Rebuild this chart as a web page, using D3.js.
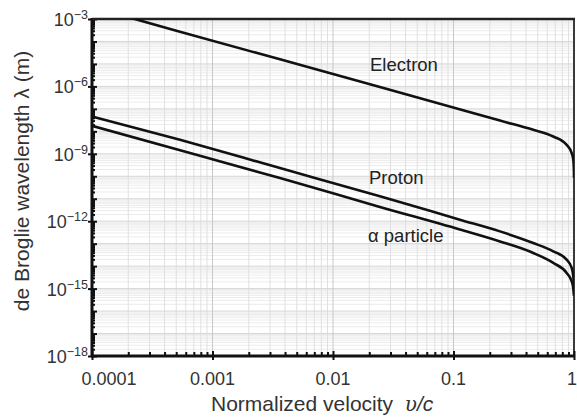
<!DOCTYPE html>
<html>
<head>
<meta charset="utf-8">
<script src="https://cdn.jsdelivr.net/npm/d3@7"></script>
<style>
  html, body { margin: 0; padding: 0; background: #fff; }
  svg { display: block; font-family: "Liberation Sans", Arial, Helvetica, sans-serif; }
</style>
</head>
<body>
<svg id="chart" width="577" height="417"></svg>
<script>
// ---- data ----
const electronV = [2.07e-4, 5.37e-4, 3.63e-3, 0.0245, 0.103, 0.243, 0.459, 0.673, 0.869, 0.957, 0.987, 0.999, 0.9999];
const electronL = [1.14e-3, 2.73e-4, 1.6e-5, 9.5e-7, 1.1e-7, 3.0e-8, 1.17e-8, 5.9e-9, 2.5e-9, 1.07e-9, 5.4e-10, 1.6e-10, 8.5e-11];

const protonV = [1e-4, 5.37e-4, 3.63e-3, 0.0245, 0.113, 0.243, 0.459, 0.673, 0.869, 0.957, 0.987, 0.999];
const protonL = [4.55e-8, 4.19e-9, 2.31e-10, 1.3e-11, 1.17e-12, 3.52e-13, 1.07e-13, 4.55e-14, 1.95e-14, 8.3e-15, 3.5e-15, 1.5e-15];

const alphaV = [1e-4, 7.87e-4, 3.63e-3, 0.0245, 0.113, 0.243, 0.459, 0.673, 0.869, 0.957, 0.987, 0.999];
const alphaL = [1.75e-8, 8.15e-10, 8.3e-11, 4.32e-12, 4.27e-13, 1.26e-13, 3.86e-14, 1.39e-14, 5.0e-15, 2.1e-15, 1.0e-15, 4.9e-16];

const xTickValues = [1e-4, 1e-3, 1e-2, 1e-1, 1];
const xTickLabels = ["0.0001", "0.001", "0.01", "0.1", "1"];
const yTickExponents = [-3, -6, -9, -12, -15, -18];

const seriesNames = ["Electron", "Proton", "\u03b1 particle"];

// ---- layout ----
const L = 92, R = 574, T = 19, B = 356;
const svg = d3.select("#chart");

const x = d3.scaleLog().domain([1e-4, 1]).range([L, R]);
const y = d3.scaleLog().domain([1e-18, 1e-3]).range([B, T]);

// minor/major grid values
const xMinor = [], xMajor = [];
for (let e = -4; e < 0; e++) {
  for (let k = 1; k <= 9; k++) {
    const v = k * Math.pow(10, e);
    if (k === 1) xMajor.push(v); else xMinor.push(v);
  }
}
xMajor.push(1);
const yMinor = [], yMajor = [];
for (let e = -18; e < -3; e++) {
  for (let k = 1; k <= 9; k++) {
    const v = k * Math.pow(10, e);
    if (k === 1) yMajor.push(v); else yMinor.push(v);
  }
}
yMajor.push(1e-3);

// grid
const grid = svg.append("g");
grid.selectAll(".gym").data(yMinor).join("line")
  .attr("x1", L).attr("x2", R).attr("y1", d => y(d)).attr("y2", d => y(d))
  .attr("stroke", "#ececec").attr("stroke-width", 1);
grid.selectAll(".gxm").data(xMinor).join("line")
  .attr("x1", d => x(d)).attr("x2", d => x(d)).attr("y1", T).attr("y2", B)
  .attr("stroke", "#e0e0e0").attr("stroke-width", 1);
grid.selectAll(".gyM").data(yMajor).join("line")
  .attr("x1", L).attr("x2", R).attr("y1", d => y(d)).attr("y2", d => y(d))
  .attr("stroke", "#d6d6d6").attr("stroke-width", 1);
grid.selectAll(".gxM").data(xMajor).join("line")
  .attr("x1", d => x(d)).attr("x2", d => x(d)).attr("y1", T).attr("y2", B)
  .attr("stroke", "#c8c8c8").attr("stroke-width", 1);

// frame
svg.append("rect").attr("x", L).attr("y", T).attr("width", R - L).attr("height", B - T)
  .attr("fill", "none").attr("stroke", "#3a3a3a").attr("stroke-width", 2);

// ticks: x axis (minor inward, major crossing)
const xAxisMinor = d3.axisBottom(x).tickValues(xMinor).tickSize(-4).tickFormat("");
const xAxisMajor = d3.axisBottom(x).tickValues(xTickValues).tickSize(4).tickFormat("");
const xAxisMajorIn = d3.axisBottom(x).tickValues(xTickValues).tickSize(-5).tickFormat("");
[xAxisMinor, xAxisMajor, xAxisMajorIn].forEach(ax => {
  const g = svg.append("g").attr("transform", `translate(0,${B})`).call(ax);
  g.select(".domain").remove();
  g.selectAll("line").attr("stroke", "#111").attr("stroke-width", 2);
});

// ticks: y axis
const yAxisMinor = d3.axisLeft(y).tickValues(yMinor).tickSize(-3).tickFormat("");
const yAxisDec = d3.axisLeft(y).tickValues(yMajor).tickSize(-5).tickFormat("");
const yLabVals = yTickExponents.map(e => Math.pow(10, e));
const yAxisLab = d3.axisLeft(y).tickValues(yLabVals).tickSize(4).tickFormat("");
[yAxisMinor, yAxisDec, yAxisLab].forEach(ax => {
  const g = svg.append("g").attr("transform", `translate(${L},0)`).call(ax);
  g.select(".domain").remove();
  g.selectAll("line").attr("stroke", "#111").attr("stroke-width", 2);
});

// axis lines (thick left & bottom)
svg.append("line").attr("x1", L).attr("x2", L).attr("y1", T - 1).attr("y2", B + 1)
  .attr("stroke", "#111").attr("stroke-width", 3);
svg.append("line").attr("x1", L - 1).attr("x2", R + 1).attr("y1", B).attr("y2", B)
  .attr("stroke", "#111").attr("stroke-width", 3);
svg.append("line").attr("x1", L).attr("x2", R + 1).attr("y1", T).attr("y2", T)
  .attr("stroke", "#222").attr("stroke-width", 2.5);

// x tick labels
svg.append("g").selectAll("text").data(xTickValues).join("text")
  .attr("x", (d, i) => x(d) + (i === 0 ? 17 : (i === xTickValues.length - 1 ? -2 : 0)))
  .attr("y", 385)
  .attr("text-anchor", "middle")
  .attr("font-size", 18)
  .attr("fill", "#333")
  .text((d, i) => xTickLabels[i]);

// y tick labels 10^n
const yl = svg.append("g").selectAll("text").data(yTickExponents).join("text")
  .attr("x", 88)
  .attr("y", d => y(Math.pow(10, d)) + 7)
  .attr("text-anchor", "end")
  .attr("fill", "#333");
yl.append("tspan").attr("font-size", 18).text("10");
yl.append("tspan").attr("font-size", 12.5).attr("dy", -7).text(d => "\u2212" + Math.abs(d));

// axis titles
const xt = svg.append("text").attr("x", 211).attr("y", 411).attr("font-size", 21).attr("fill", "#333");
xt.append("tspan").text("Normalized velocity\u00a0\u00a0");
xt.append("tspan").attr("font-style", "italic").attr("font-family", "'DejaVu Serif', serif").attr("font-size", 20).text("\u03c5");
xt.append("tspan").attr("font-style", "italic").text("/c");

svg.append("text")
  .attr("transform", "translate(29,181) rotate(-90)")
  .attr("text-anchor", "middle")
  .attr("font-size", 21)
  .attr("fill", "#333")
  .text("de Broglie wavelength \u03bb (m)");

// curves
svg.append("clipPath").attr("id", "clip").append("rect")
  .attr("x", L).attr("y", T).attr("width", R - L).attr("height", B - T);

const line = d3.line().x(d => x(d[0])).y(d => y(d[1])).curve(d3.curveMonotoneX);
const seriesData = [
  d3.zip(electronV, electronL),
  d3.zip(protonV, protonL),
  d3.zip(alphaV, alphaL)
];
svg.append("g").attr("clip-path", "url(#clip)")
  .selectAll("path").data(seriesData).join("path")
  .attr("d", line)
  .attr("fill", "none")
  .attr("stroke", "#111")
  .attr("stroke-width", 2.6)
  .attr("stroke-linejoin", "round");

// series labels
const labelPos = [[370, 71], [369, 184], [368, 242]];
svg.append("g").selectAll("text").data(seriesNames).join("text")
  .attr("x", (d, i) => labelPos[i][0])
  .attr("y", (d, i) => labelPos[i][1])
  .attr("font-size", 18.5)
  .attr("fill", "#222")
  .text(d => d);
</script>
</body>
</html>
